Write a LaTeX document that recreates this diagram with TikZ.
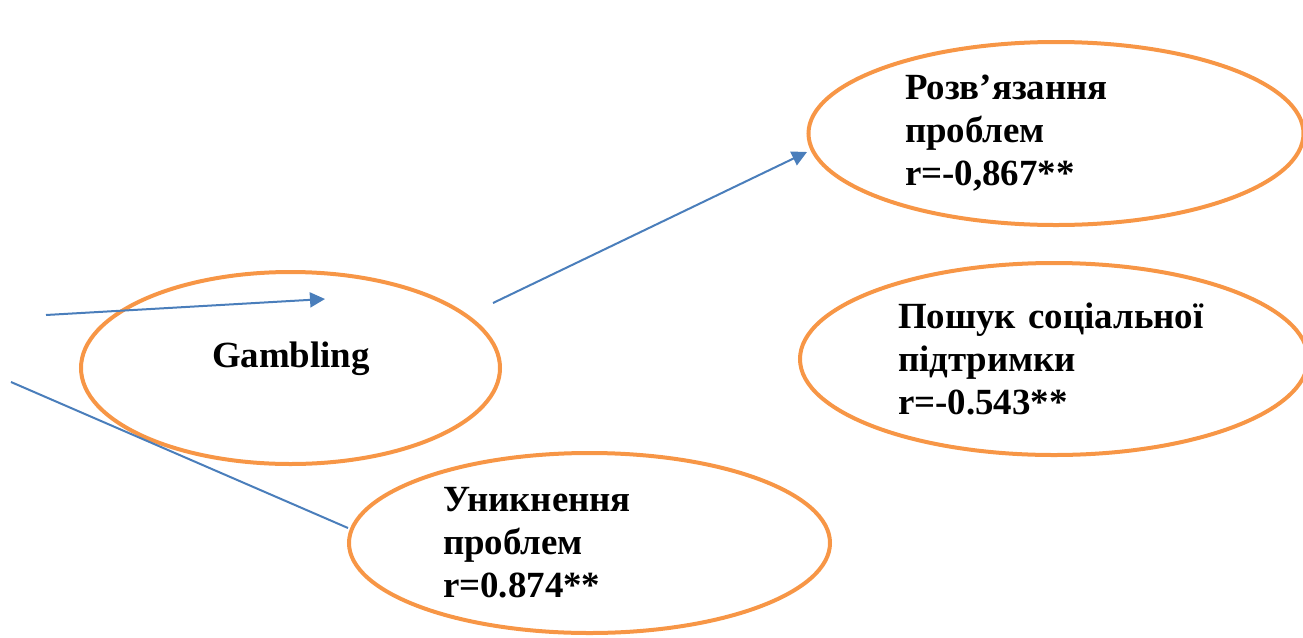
\documentclass[tikz,border=0pt]{standalone}
\usepackage{fontspec}
\setmainfont{Liberation Serif}
\usetikzlibrary{shapes.geometric,arrows.meta}
\definecolor{linkblue}{HTML}{4A7EBB}
\definecolor{ovalorange}{HTML}{F79646}
\begin{document}
\begin{tikzpicture}[x=0.2mm, y=-0.2mm,
    oval/.style={ellipse, draw=ovalorange, line width=0.8mm, inner sep=0pt,
        font=\fontsize{21}{24.5}\selectfont\bfseries},
    link/.style={draw=linkblue, line width=0.4mm},
    >={Triangle[length=3mm, width=3mm]}]
        \useasboundingbox (0,0) rectangle (1303,637);

        \node[oval, minimum width=83.8mm, minimum height=38.4mm] (gambling) at (290.5,368) {};
        \node[oval, minimum width=99mm, minimum height=36.6mm, text width=60.4mm, align=left] (solving) at (1056,133.5) {Розв’язання\\проблем\\r=-0,867**};
        \node[oval, minimum width=101.6mm, minimum height=38.4mm, text width=62.4mm, align=left] (support) at (1054,359) {Пошук соціальної\\підтримки\\r=-0.543**};
        \node[oval, minimum width=96.2mm, minimum height=36mm, text width=58.6mm, align=left] (avoiding) at (589.5,543) {Уникнення\\проблем\\r=0.874**};
        \node[font=\fontsize{21}{24.5}\selectfont\bfseries, anchor=base] (gamblabel) at (291,367) {Gambling};

        \coordinate (in1) at (46,315);
        \coordinate (in2) at (325,299);
        \coordinate (out1) at (493,303);
        \coordinate (out2) at (807,152);
        \coordinate (in3) at (11,382);
        \coordinate (in4) at (348,528);

        \draw[link, ->] (in1) -- (in2);
        \draw[link, ->] (out1) -- (out2);
        \draw[link] (in3) -- (in4);
        \end{tikzpicture}
\end{document}
